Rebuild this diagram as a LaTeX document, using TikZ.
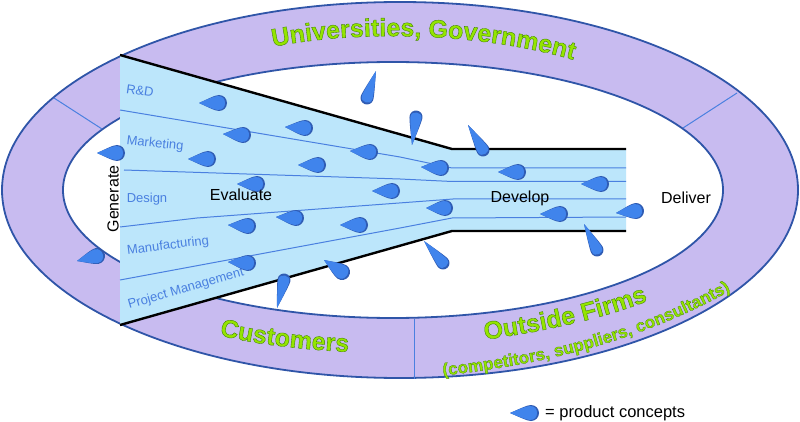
\documentclass[tikz,border=0pt]{standalone}
\usepackage{fontspec}
\usepackage{tikz}
\usetikzlibrary{decorations.text}
\setmainfont{Liberation Sans}
\newfontfamily\ringfont[UprightFont={* Bold},FakeBold=1.5]{Liberation Sans}
\definecolor{ringfill}{HTML}{C8BBF0}
\definecolor{ringline}{HTML}{2F55A8}
\definecolor{funnelfill}{HTML}{BCE6FB}
\definecolor{lanecolor}{HTML}{4A80E0}
\definecolor{dropfill}{HTML}{4084EC}
\definecolor{droprim}{HTML}{2F5CB4}
% green letters with a dark stroke round them
\newcommand{\ringface}[1]{\ringfont\fontsize{#1}{#1}\selectfont\special{pdf:code 0.58 0.90 0 rg 0.24 0.50 0 RG}}
\tikzset{
  lane/.style={draw=lanecolor,line width=1pt},
  border/.style={line width=2.4pt},
  ringedge/.style={draw=ringline,line width=1.8pt},
  lanelabel/.style={text=lanecolor,font=\fontsize{13}{13}\selectfont,inner sep=0pt},
  stage/.style={text=black,font=\fontsize{16}{16}\selectfont,inner sep=0pt},
  curvedtext/.style n args={2}{decorate,decoration={text along path,text align=center,text={|\ringface{#1}|#2}}},
  % #1 is the reach of the tip, #2 the radius of the head
  pics/concept/.style n args={2}{code={
    \pgfmathsetmacro\ca{-0.6*#1}\pgfmathsetmacro\cb{0.45*#2}\pgfmathsetmacro\cc{0.5*#2}
    \pgfmathsetmacro\cd{0.55*#2}\pgfmathsetmacro\ri{#2-1}\pgfmathsetmacro\ce{0.55*\ri}\pgfmathsetmacro\cf{\ri-1}
    \fill[droprim] (-#1,0) .. controls (\ca,-\cb) and (-\cc,-#2) .. (0,-#2) .. controls (\cd,-#2) and (#2,-\cd) .. (#2,0)
      .. controls (#2,\cd) and (\cd,#2) .. (0,#2) .. controls (-\cc,#2) and (\ca,\cb) .. cycle;
    \fill[dropfill] (-#1,0) .. controls (\ca,-\cb) and (-\cc,-\ri) .. (-1,-\ri) .. controls (\ce,-\ri) and (\cf,-\ce) .. (\cf,0)
      .. controls (\cf,\ce) and (\ce,\ri) .. (-1,\ri) .. controls (-\cc,\ri) and (\ca,\cb) .. cycle;
  }}
}
% one product concept from its head to its tip
\newcommand{\concept}[4]{
  \pgfmathsetmacro\dropangle{atan2(#2-#4,#3-#1)-180}
  \pgfmathsetmacro\dropreach{veclen(#3-#1,#4-#2)}
  \pgfmathsetmacro\drophead{\dropreach>22 ? 6.5 : 8}
  \pic[rotate=\dropangle] at (#1,#2) {concept={\dropreach}{\drophead}};
}
\begin{document}
\begin{tikzpicture}[x=1pt,y=-1pt]
\useasboundingbox (0,0) rectangle (800,422);
% the ring
\draw[ringedge,fill=ringfill] (400,190) ellipse [x radius=398,y radius=188];
\concept{97}{256}{77}{261}
\draw[ringedge,fill=white] (393,190) ellipse [x radius=330,y radius=128];
\draw[lane] (54,98) -- (102,129);
\draw[lane] (737,93) -- (683,128);
\draw[lane] (414,319) -- (414,379);
% the funnel
\fill[funnelfill] (120,55) -- (452,149) -- (626,149) -- (626,231) -- (452,231) -- (120,325) -- cycle;
\draw[lane] (120,110) -- (400,157) -- (452,168) -- (626,168);
\draw[lane] (124,170) -- (400,179) -- (452,181.5) -- (626,181.5);
\draw[lane] (120,227) -- (197,218) -- (453,199) -- (626,199);
\draw[lane] (120,280) -- (400,228) -- (452,218) -- (626,217);
\draw[border] (120,55) -- (452,149) -- (626,149);
\draw[border] (120,325) -- (452,231) -- (626,231);
% lane names
\node[lanelabel,rotate=-8] (rnd) at (140,91) {R\&D};
\node[lanelabel,rotate=-6] (marketing) at (155,144) {Marketing};
\node[lanelabel] (design) at (147,199) {Design};
\node[lanelabel,rotate=7] (manufacturing) at (168,246) {Manufacturing};
\node[lanelabel,rotate=16] (projmgmt) at (186,289) {Project Management};
% product concepts: head x / head y / tip x / tip y
\foreach \hx/\hy/\tx/\ty in {
  219/103/199/103, 243/135/223/134, 305/128/285/127, 370/152/350/151,
  208/159/188/159, 318/165/298/165, 257/184/237/184, 392/191/372/191,
  117/153/97/153, 367/98/376/71, 416/117/412/145, 483/150/468/125,
  441/168/421/167, 518/172/498/172, 601/184/581/184, 248/226/228/225,
  296/218/276/217, 360/225/340/225, 248/263/228/262,
  284/280/277/308, 342/272/324/260, 445/208/426/208, 560/214/540/214,
  636/211/616/213, 443/263/424/241, 597/250/584/224, 531/413/510/413} {
  \concept{\hx}{\hy}{\tx}{\ty}
}
% stages
\node[stage,rotate=90] (generate) at (113,199) {Generate};
\node[stage] (evaluate) at (241,195) {Evaluate};
\node[stage] (develop) at (520,198) {Develop};
\node[stage] (deliver) at (686,198) {Deliver};
\node[stage,anchor=west,font=\fontsize{16.5}{16.5}\selectfont] (legend) at (545,413) {= product concepts};
% sources round the ring
\path[curvedtext={25}{Universities, Government}] (262,49) .. controls (348,30) and (478,30) .. (584,63);
\path[curvedtext={25}{Customers}] (218,335) .. controls (258,345) and (308,350) .. (350,352);
\path[curvedtext={25}{Outside Firms}] (483,340) .. controls (540,332) and (600,320) .. (650,300);
\path[curvedtext={17.2}{(competitors, suppliers, consultants)}] (430,377) .. controls (550,365) and (650,338) .. (742,284);
\end{tikzpicture}
\end{document}
